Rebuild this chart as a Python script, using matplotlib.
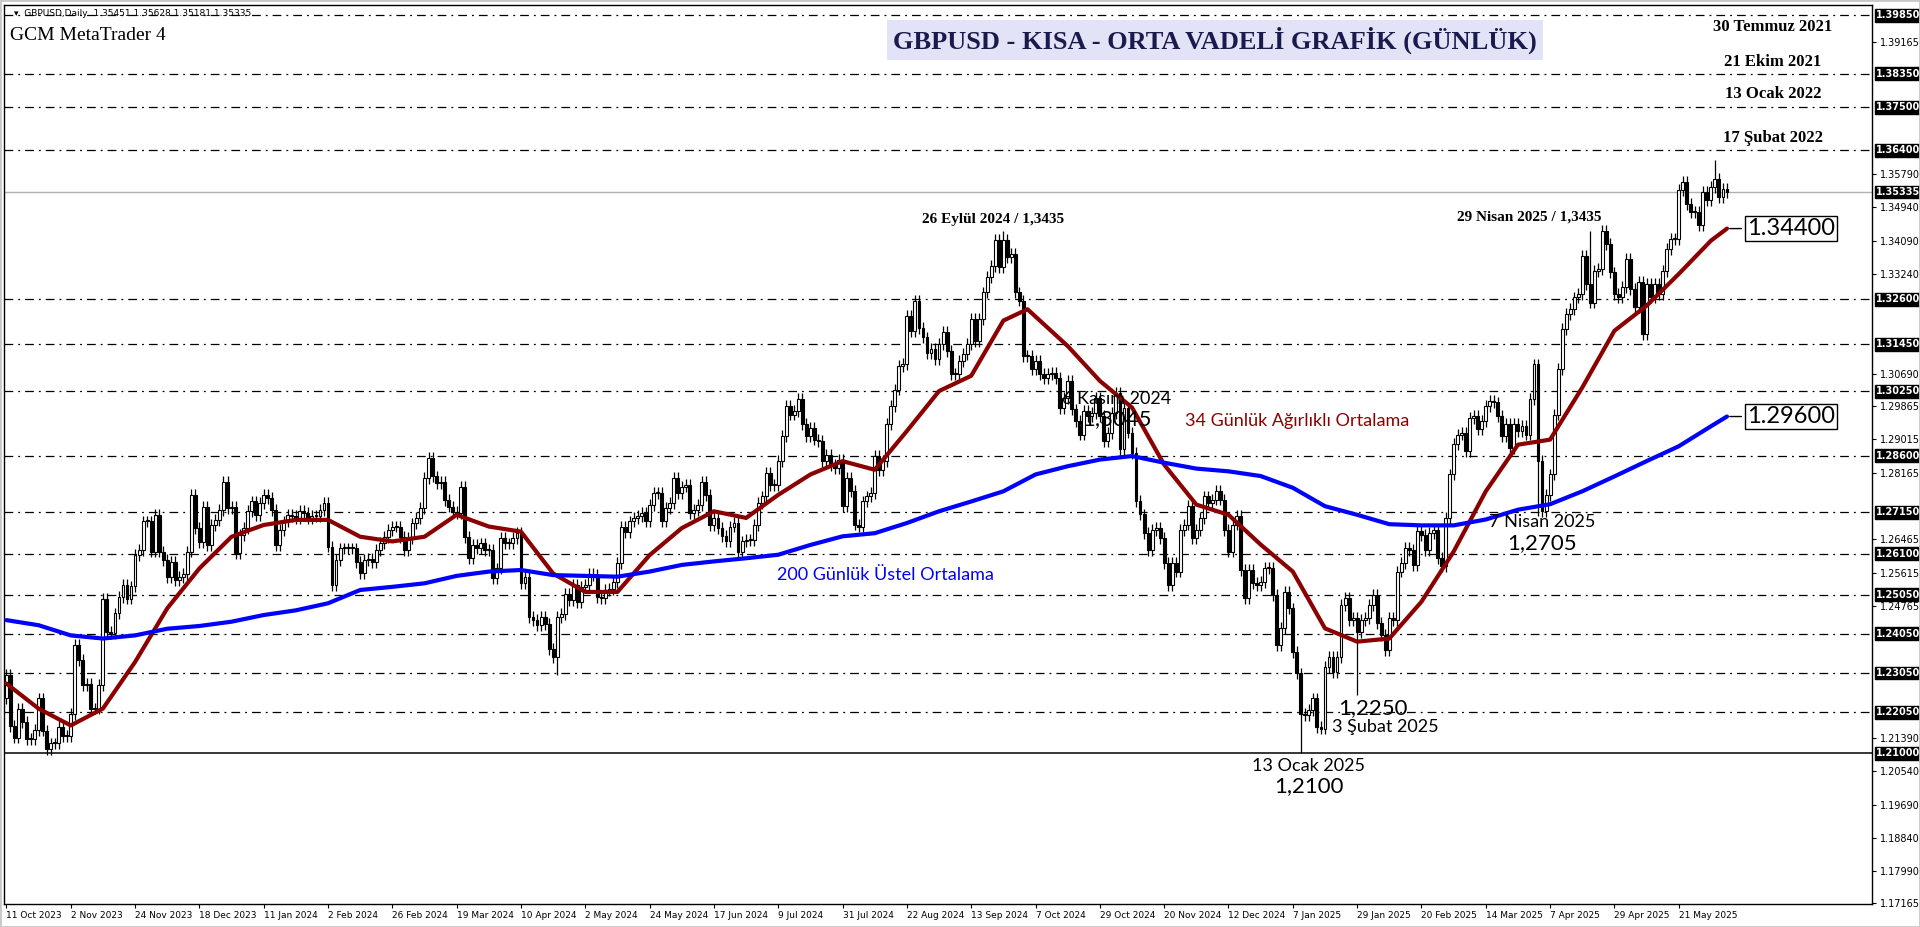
import matplotlib
matplotlib.use("Agg")
import matplotlib.pyplot as plt
import numpy as np

# ---------------- data ----------------
closes = [
 1.2300,1.2170,1.2140,1.2213,1.2180,1.2137,1.2137,1.2160,1.2240,1.2158,
 1.2110,1.2125,1.2125,1.2168,1.2145,1.2145,1.2200,1.2376,1.2338,1.2274,
 1.2278,1.2214,1.2214,1.2274,1.2495,1.2410,1.2406,1.2457,1.2500,1.2530,
 1.2495,1.2526,1.2606,1.2620,1.2692,1.2692,1.2615,1.2709,1.2615,1.2593,
 1.2550,1.2589,1.2542,1.2550,1.2558,1.2615,1.2760,1.2675,1.2640,1.2730,
 1.2632,1.2683,1.2696,1.2722,1.2794,1.2726,1.2730,1.2611,1.2658,1.2675,
 1.2718,1.2743,1.2709,1.2739,1.2760,1.2752,1.2722,1.2632,1.2670,1.2692,
 1.2709,1.2705,1.2700,1.2718,1.2713,1.2700,1.2705,1.2705,1.2722,1.2739,
 1.2628,1.2530,1.2593,1.2623,1.2623,1.2623,1.2623,
 1.2589,1.2560,1.2593,1.2596,1.2589,1.2619,1.2637,1.2653,1.2670,1.2679,
 1.2679,1.2653,1.2619,1.2649,1.2687,1.2700,1.2726,1.2803,1.2854,1.2807,
 1.2790,1.2794,1.2747,1.2730,1.2717,1.2713,1.2781,1.2653,1.2598,1.2632,
 1.2624,1.2636,1.2619,1.2619,1.2547,1.2572,1.2649,1.2636,1.2636,1.2649,
 1.2662,1.2534,1.2551,1.2448,1.2440,1.2427,1.2448,1.2431,1.2367,1.2346,
 1.2448,1.2456,1.2508,1.2491,1.2529,1.2487,1.2525,1.2529,1.2559,1.2555,
 1.2500,1.2496,1.2517,1.2520,1.2538,1.2585,1.2679,1.2666,1.2692,1.2700,
 1.2705,1.2713,1.2692,1.2734,1.2764,1.2764,1.2692,1.2726,1.2739,1.2803,
 1.2764,1.2781,1.2786,1.2713,1.2722,1.2734,1.2794,1.2760,1.2683,1.2700,
 1.2675,1.2654,1.2641,1.2679,1.2688,1.2615,1.2641,1.2645,1.2645,1.2683,
 1.2739,1.2756,1.2816,1.2786,1.2786,1.2846,1.2910,1.2987,1.2965,1.2974,
 1.3004,1.2940,1.2910,1.2931,1.2901,1.2897,1.2846,1.2863,1.2837,1.2829,
 1.2850,1.2731,1.2803,1.2769,1.2684,1.2679,1.2743,1.2756,1.2765,1.2859,
 1.2824,1.2846,1.2940,1.2987,1.3029,1.3089,1.3094,1.3217,1.3179,1.3256,
 1.3187,1.3162,1.3123,1.3132,1.3106,1.3145,1.3175,1.3128,1.3068,1.3068,
 1.3102,1.3119,1.3145,1.3209,1.3153,1.3209,1.3277,1.3316,1.3345,1.3410,
 1.3341,1.3410,1.3367,1.3375,1.3277,1.3256,1.3115,1.3115,1.3081,1.3102,
 1.3068,1.3059,1.3068,1.3072,1.3059,1.2982,1.3008,1.3051,1.2978,1.2948,
 1.2914,1.2974,1.2961,1.2969,1.3008,1.2961,1.2897,1.2918,1.2969,1.3021,
 1.2876,
 1.2983,1.2919,1.2867,1.2744,1.2710,1.2662,1.2620,1.2671,1.2675,1.2650,
 1.2586,1.2530,1.2586,1.2564,1.2671,1.2684,1.2731,1.2650,1.2671,1.2701,
 1.2756,1.2739,1.2748,1.2769,1.2748,1.2671,1.2615,1.2684,1.2705,1.2568,
 1.2496,1.2568,1.2534,1.2530,1.2538,1.2573,1.2573,1.2504,1.2376,1.2419,
 1.2513,1.2470,1.2359,1.2304,1.2201,1.2197,1.2210,1.2240,1.2167,1.2163,
 1.2321,1.2346,1.2308,1.2346,1.2479,1.2496,1.2440,1.2445,1.2410,1.2440,
 1.2445,1.2479,1.2504,1.2432,1.2402,1.2364,1.2445,1.2440,1.2564,1.2586,
 1.2624,1.2620,1.2581,1.2667,1.2658,1.2620,1.2662,1.2671,1.2598,1.2577,
 1.2701,1.2812,1.2889,1.2914,1.2919,1.2872,1.2957,1.2961,1.2927,1.2948,
 1.2987,1.3000,1.2996,1.2961,1.2910,
 1.2940,1.2880,1.2940,1.2923,1.2935,1.2914,1.3004,1.3093,1.2846,1.2718,
 1.2760,1.2812,1.2965,1.3081,1.3183,1.3222,1.3234,1.3264,1.3273,1.3371,
 1.3298,1.3251,1.3332,1.3337,1.3435,1.3401,1.3328,1.3273,1.3264,1.3290,
 1.3362,1.3286,1.3239,1.3303,1.3170,1.3298,1.3264,1.3298,1.3273,1.3332,
 1.3388,1.3414,1.3414,1.3538,1.3559,1.3503,1.3482,1.3482,1.3448,1.3533,
 1.3512,1.3546,1.3567,1.3520,1.3542,1.3534,
]
first_open = 1.2240
wick = 0.0015
extreme_lows = {137: 1.2300, 322: 1.2100, 336: 1.2250, 381: 1.2705}
extreme_highs = {248: 1.3435, 394: 1.3435, 425: 1.3616}

ma_idx = [0,8,16,24,32,40,48,56,64,72,80,88,96,104,112,120,128,136,144,152,160,168,176,
          184,192,200,208,216,224,232,240,248,254,264,272,280,288,296,304,312,320,328,336,
          344,352,360,368,376,384,392,400,408,416,424,428]
lwma34 = [1.2278,1.2214,1.2171,1.2214,1.2333,1.2470,1.2572,1.2653,1.2683,1.2696,1.2696,1.2653,
          1.2641,1.2653,1.2709,1.2679,1.2666,1.2559,1.2512,1.2512,1.2606,1.2675,1.2718,
          1.2701,1.2760,1.2812,1.2846,1.2824,1.2923,1.3025,1.3064,1.3205,1.3234,1.3140,1.3051,
          1.2983,1.2837,1.2735,1.2709,1.2633,1.2564,1.2419,1.2385,1.2393,1.2487,1.2615,1.2769,
          1.2888,1.2901,1.3034,1.3179,1.3243,1.3324,1.3409,1.3440]
ema_idx = [0,8,16,24,32,40,48,56,64,72,80,88,96,104,112,120,128,136,144,152,160,168,176,
           184,192,200,208,216,224,232,240,248,256,264,272,280,288,296,304,312,320,328,336,
           344,352,360,368,376,384,392,400,408,416,424,428]
ema200 = [1.2440,1.2427,1.2401,1.2393,1.2401,1.2418,1.2425,1.2436,1.2453,1.2465,1.2483,1.2517,
          1.2525,1.2534,1.2553,1.2564,1.2568,1.2555,1.2553,1.2551,1.2564,1.2581,1.2590,
          1.2598,1.2607,1.2632,1.2654,1.2662,1.2688,1.2718,1.2743,1.2769,1.2812,1.2833,1.2850,
          1.2859,1.2842,1.2827,1.2820,1.2808,1.2778,1.2731,1.2709,1.2685,1.2682,1.2682,1.2697,
          1.2722,1.2736,1.2769,1.2807,1.2846,1.2884,1.2935,1.2960]

date_labels = ["11 Oct 2023","2 Nov 2023","24 Nov 2023","18 Dec 2023","11 Jan 2024","2 Feb 2024",
               "26 Feb 2024","19 Mar 2024","10 Apr 2024","2 May 2024","24 May 2024","17 Jun 2024",
               "9 Jul 2024","31 Jul 2024","22 Aug 2024","13 Sep 2024","7 Oct 2024","29 Oct 2024",
               "20 Nov 2024","12 Dec 2024","7 Jan 2025","29 Jan 2025","20 Feb 2025","14 Mar 2025",
               "7 Apr 2025","29 Apr 2025","21 May 2025"]
label_step = 16

level_lines = [1.39850,1.38350,1.37500,1.36400,1.32600,1.31450,1.30250,1.28600,1.27150,
               1.26100,1.25050,1.24050,1.23050,1.22050]
support_line = 1.21000
current_price = 1.35335
axis_ticks = [1.39165,1.35790,1.34940,1.34090,1.33240,
              1.30690,1.29865,1.29015,1.28165,1.26465,1.25615,1.24765,
              1.21390,1.20540,1.19690,1.18840,1.17990,1.17165]

# ---------------- figure ----------------
W, H = 1920, 927
fig = plt.figure(figsize=(W/100, H/100), dpi=100)
fig.patch.set_facecolor("white")
L, R, T, B = 4, 1872, 5, 904
ax = fig.add_axes([L/W, 1-B/H, (R-L)/W, (B-T)/H])
ax.set_xlim(-0.6, (R-L)/4.02 - 0.6)
ax.set_ylim(1.1715, 1.4011)
for s in ax.spines.values():
    s.set_linewidth(1.0); s.set_color("black")

n = len(closes)
x = np.arange(n)
c = np.array(closes)
o = np.concatenate([[first_open], c[:-1]])
hi = np.maximum(o, c) + wick
lo = np.minimum(o, c) - wick
for k, v in extreme_lows.items():
    if k < n: lo[k] = v
for k, v in extreme_highs.items():
    if k < n: hi[k] = v

for lv in level_lines:
    ax.axhline(lv, color="black", lw=0.9, ls=(0, (7, 4, 1.5, 4)), zorder=1)
ax.axhline(support_line, color="black", lw=1.1, zorder=1)
ax.axhline(current_price, color="#b0b0b0", lw=1.0, zorder=1)

ax.vlines(x, lo, hi, color="black", lw=0.9, zorder=2)
bull = c >= o
body_lo = np.minimum(o, c); body_h = np.maximum(np.abs(c - o), 0.00025)
ax.bar(x[bull], body_h[bull], bottom=body_lo[bull], width=0.72, color="white",
       edgecolor="black", linewidth=0.8, zorder=3)
ax.bar(x[~bull], body_h[~bull], bottom=body_lo[~bull], width=0.72, color="black",
       edgecolor="black", linewidth=0.8, zorder=3)

ax.plot(ma_idx, lwma34, color="#8b0000", lw=3.0, zorder=4, solid_capstyle="round")
ax.plot(ema_idx, ema200, color="#0000ff", lw=3.0, zorder=4, solid_capstyle="round")

ax.yaxis.tick_right()
ax.set_yticks(axis_ticks)
ax.set_yticklabels([f"{v:.5f}" for v in axis_ticks], fontsize=7, family="DejaVu Sans")
ax.tick_params(axis="y", length=3, pad=3)
xt = [i*label_step for i in range(len(date_labels))]
ax.set_xticks(xt)
ax.set_xticklabels(date_labels, fontsize=6.5, ha="left")
ax.tick_params(axis="x", length=3, pad=2, direction="out")

def box_label(v):
    ax.annotate(f"{v:.5f}", xy=(1.0, v), xycoords=("axes fraction", "data"),
                xytext=(3, 0), textcoords="offset points", va="center", ha="left",
                fontsize=7, color="white", fontweight="bold", family="DejaVu Sans",
                bbox=dict(boxstyle="square,pad=0.15", fc="black", ec="black"), zorder=10,
                annotation_clip=False)
for lv in level_lines + [support_line, current_price]:
    box_label(lv)

def ftext(px, py, s, **kw):
    fig.text(px/W, 1-py/H, s, **kw)

serif = ["Liberation Serif", "DejaVu Serif"]
sans = ["Lato", "DejaVu Sans"]

ftext(14, 13, "▾  GBPUSD,Daily  1.35451 1.35628 1.35181 1.35335", fontsize=6.5,
      va="center", family="DejaVu Sans")
ftext(10, 35, "GCM MetaTrader 4", fontsize=14, va="center", family=serif)
ftext(1215, 40, "GBPUSD - KISA - ORTA VADELİ GRAFİK (GÜNLÜK)", fontsize=19, fontweight="bold",
      va="center", ha="center", family=serif, color="#1a1a4d",
      bbox=dict(boxstyle="square,pad=0.25", fc="#e3e3f7", ec="none"))
for yy, s in [(27, "30 Temmuz 2021"), (62, "21 Ekim 2021"), (94, "13 Ocak 2022"), (138, "17 Şubat 2022")]:
    ftext(1773, yy, s, fontsize=12, fontweight="bold", ha="center", va="center", family=serif)
ftext(993, 220, "26 Eylül 2024 / 1,3435", fontsize=11, fontweight="bold", ha="center", va="center", family=serif)
ftext(1529, 217, "29 Nisan 2025 / 1,3435", fontsize=11, fontweight="bold", ha="center", va="center", family=serif)
ftext(1117, 399, "6 Kasım 2024", fontsize=13, ha="center", va="center", family=sans)
ftext(1117, 419, "1,3045", fontsize=16, ha="center", va="center", family=sans)
ftext(1297, 421, "34 Günlük Ağırlıklı Ortalama", fontsize=13, ha="center", va="center",
      family=sans, color="#8b0000")
ftext(885, 575, "200 Günlük Üstel Ortalama", fontsize=13, ha="center", va="center",
      family=sans, color="#0000ff")
ftext(1542, 522, "7 Nisan 2025", fontsize=13, ha="center", va="center", family=sans)
ftext(1542, 543, "1,2705", fontsize=16, ha="center", va="center", family=sans)
ftext(1373, 708, "1,2250", fontsize=16, ha="center", va="center", family=sans)
ftext(1385, 727, "3 Şubat 2025", fontsize=13, ha="center", va="center", family=sans)
ftext(1309, 766, "13 Ocak 2025", fontsize=13, ha="center", va="center", family=sans)
ftext(1309, 786, "1,2100", fontsize=16, ha="center", va="center", family=sans)

for val, txt in [(lwma34[-1], "1.34400"), (ema200[-1], "1.29600")]:
    ax.annotate(txt, xy=(ma_idx[-1], val), xytext=(ma_idx[-1] + 5, val), va="center", ha="left",
                fontsize=17, family=sans,
                arrowprops=dict(arrowstyle="-", color="black", lw=1.0),
                bbox=dict(boxstyle="square,pad=0.1", fc="white", ec="black", lw=1.0), zorder=10)

fig.add_artist(plt.Rectangle((0, 0), 1, 1, transform=fig.transFigure, fill=False,
                             ec="#c8c8c8", lw=2))
fig.savefig("out.png", dpi=100)
